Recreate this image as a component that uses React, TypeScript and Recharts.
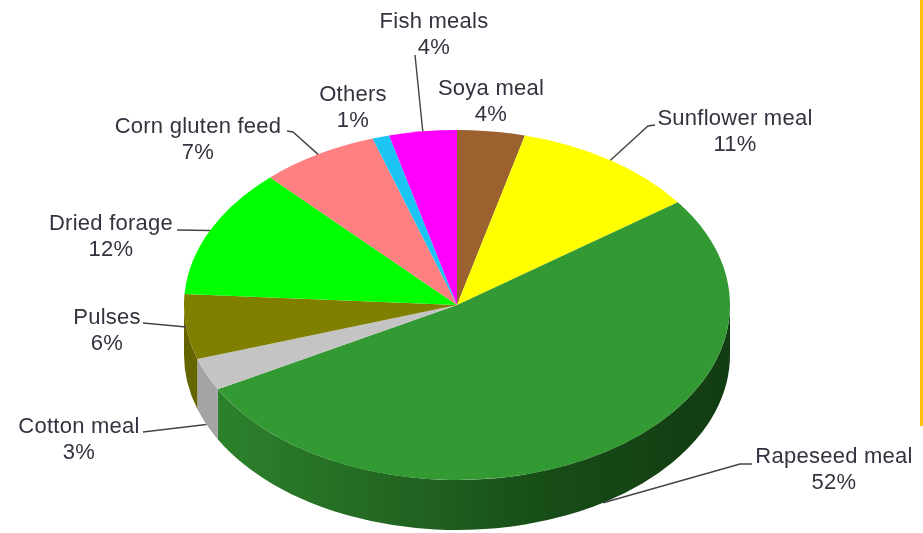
import React from "react";
import { PieChart, Pie, Cell } from "recharts";

const categories = ["Soya meal", "Sunflower meal", "Rapeseed meal", "Cotton meal", "Pulses", "Dried forage", "Corn gluten feed", "Others", "Fish meals"];
const shares = [4, 11, 52, 3, 6, 12, 7, 1, 4];
const topColors = ["#9b6230", "#ffff00", "#339933", "#c4c4c4", "#808000", "#00ff00", "#ff8080", "#1cc4f4", "#ff00ff"];
const sideColors = ["#6b4320", "#b0b000", "url(#rapeSide)", "#a4a4a4", "#646400", "#00b000", "#b05858", "#1288aa", "#b000b0"];

// layout only: label text centre, first baseline, and leader points from the text towards the pie
const labelX = [491, 735, 834, 79, 107, 111, 198, 353, 434];
const labelY = [95, 125, 463, 433, 324, 230, 133, 101, 28];
const leaders: [number, number][][] = [
  [],
  [[655, 125], [648, 126]],
  [[752, 464], [740, 464]],
  [[143, 432]],
  [[143, 323]],
  [[177, 230]],
  [[287, 131], [293, 132]],
  [],
  [[415, 55]],
];

const CX = 457;
const CY = 305;
const RX = 273;
const RY = 175;
const DEPTH = 50;
const LINE_GAP = 25.5;

const rad = (d: number) => (d * Math.PI) / 180;
const pt = (a: number, dy = 0): [number, number] => [CX + RX * Math.cos(rad(a)), CY - RY * Math.sin(rad(a)) + dy];

function EllipticSector(props: any) {
  const { startAngle, endAngle, fill, index } = props;
  const s = pt(startAngle);
  const e = pt(endAngle);
  const large = Math.abs(startAngle - endAngle) > 180 ? 1 : 0;
  const top = `M${CX},${CY} L${s[0]},${s[1]} A${RX},${RY} 0 ${large} 1 ${e[0]},${e[1]} Z`;
  const a0 = Math.min(startAngle, 0);
  const a1 = Math.max(endAngle, -180);
  let side: string | null = null;
  if (a0 > a1) {
    const p = pt(a0);
    const q = pt(a1);
    const l = a0 - a1 > 180 ? 1 : 0;
    side = `M${p[0]},${p[1]} A${RX},${RY} 0 ${l} 1 ${q[0]},${q[1]} L${q[0]},${q[1] + DEPTH} A${RX},${RY} 0 ${l} 0 ${p[0]},${p[1] + DEPTH} Z`;
  }
  const i = categories.indexOf(props.payload?.name ?? props.name);
  return (
    <g>
      <defs>
        <linearGradient id="rapeSide" gradientUnits="userSpaceOnUse" x1="215" y1="0" x2="730" y2="0">
          <stop offset="0" stopColor="#2c822c" />
          <stop offset="0.35" stopColor="#226622" />
          <stop offset="0.65" stopColor="#174c17" />
          <stop offset="1" stopColor="#123c12" />
        </linearGradient>
      </defs>
      {side && <path d={side} fill={sideColors[i >= 0 ? i : index]} />}
      <path d={top} fill={fill} />
    </g>
  );
}

function renderLabel(props: any) {
  const { index, midAngle } = props;
  const leader = leaders[index];
  const front = index === 2 || index === 3;
  const anchor = pt(midAngle, front ? DEPTH : 0);
  const font = { fontFamily: "Liberation Sans, Arial, sans-serif", fontSize: 22, letterSpacing: 0.25, fill: "#33333f" };
  return (
    <g>
      {leader.length > 0 && (
        <polyline
          points={[...leader, anchor].map((p) => p.join(",")).join(" ")}
          fill="none"
          stroke="#444"
          strokeWidth={1.4}
        />
      )}
      <text x={labelX[index]} y={labelY[index]} textAnchor="middle" {...font}>{categories[index]}</text>
      <text x={labelX[index]} y={labelY[index] + LINE_GAP} textAnchor="middle" {...font}>{shares[index]}%</text>
    </g>
  );
}

const data = categories.map((name, i) => ({ name, value: shares[i] }));

export default function App() {
  return (
    <div style={{ position: "absolute", left: 0, top: 0, width: 923, height: 533, background: "#fff", overflow: "hidden", filter: "blur(0.6px)" }}>
      <PieChart width={923} height={533} margin={{ top: 0, right: 0, bottom: 0, left: 0 }}>
        <Pie
          data={data}
          dataKey="value"
          nameKey="name"
          cx={CX}
          cy={CY}
          innerRadius={0}
          outerRadius={RX}
          startAngle={90}
          endAngle={-270}
          stroke="none"
          isAnimationActive={false}
          shape={EllipticSector}
          label={renderLabel}
          labelLine={false}
        >
          {data.map((d, i) => (
            <Cell key={d.name} fill={topColors[i]} />
          ))}
        </Pie>
      </PieChart>
      <div style={{ position: "absolute", left: 920, top: 0, width: 3, height: 426, background: "#ffc000" }} />
    </div>
  );
}
